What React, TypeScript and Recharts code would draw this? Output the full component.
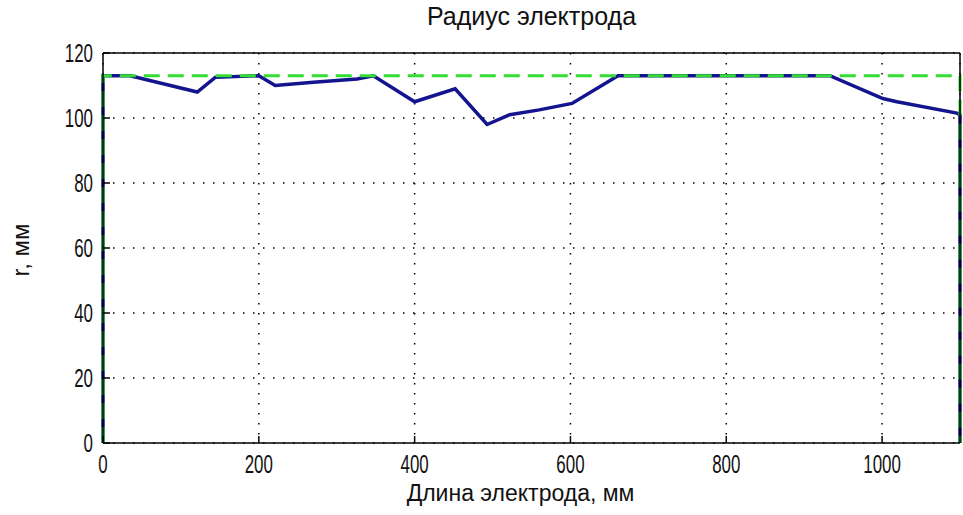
import React from 'react';
import { LineChart, Line, XAxis, YAxis, CartesianGrid } from 'recharts';

// electrode length, mm / radius, mm
const profileX = [0, 0, 35, 121, 144, 200, 221, 270, 326, 347, 400, 452, 493, 522, 560, 602, 661, 933, 1001, 1019, 1096, 1100, 1100];
const profileR = [0, 113, 113, 108, 112.5, 113, 110, 111, 112, 113, 105, 109, 98, 101, 102.5, 104.5, 113, 113, 106, 105, 101.5, 101, 0];

// nominal radius outline
const boxX = [0, 0, 1100, 1100];
const boxR = [0, 113, 113, 0];

const xTicks = [0, 200, 400, 600, 800, 1000];
const yTicks = [0, 20, 40, 60, 80, 100, 120];

const profileData = profileX.map((x, i) => ({ x, r: profileR[i] }));
const boxData = boxX.map((x, i) => ({ x, r: boxR[i] }));

const FONT = '"Liberation Sans", Arial, sans-serif';

const XTick = (props: any) => {
  const { x, y, payload } = props;
  return (
    <text
      transform={`translate(${x},${y}) scale(0.65,1)`}
      textAnchor="middle"
      dy={18}
      fontSize={26}
      fontFamily={FONT}
      fill="#111"
    >
      {payload.value}
    </text>
  );
};

const YTick = (props: any) => {
  const { x, y, payload } = props;
  return (
    <text
      transform={`translate(${x},${y}) scale(0.65,1)`}
      textAnchor="end"
      dy={9}
      fontSize={26}
      fontFamily={FONT}
      fill="#111"
    >
      {payload.value}
    </text>
  );
};

export default function App() {
  return (
    <div style={{ position: 'absolute', left: 0, top: 0, width: 963, height: 515, background: '#fff', fontFamily: FONT, color: '#111' }}>
      <div style={{ position: 'absolute', left: 0, width: 963, top: 2, textAlign: 'center', fontSize: 25, paddingLeft: 100, boxSizing: 'border-box' }}>
        Радиус электрода
      </div>
      <LineChart width={963} height={515} margin={{ top: 23, right: 0, bottom: 42, left: 55 }}>
        <CartesianGrid stroke="#000" strokeWidth={1.5} strokeDasharray="1.5 8.5" />
        <XAxis
          dataKey="x"
          type="number"
          domain={[0, 1100]}
          ticks={xTicks}
          height={30}
          stroke="#000"
          strokeWidth={1.5}
          tickSize={-7}
          tickMargin={19}
          tick={<XTick />}
        />
        <XAxis
          xAxisId="top"
          orientation="top"
          type="number"
          domain={[0, 1100]}
          ticks={xTicks}
          height={30}
          stroke="#000"
          strokeWidth={1.5}
          tickSize={-7}
          tick={false}
        />
        <YAxis
          type="number"
          domain={[0, 120]}
          ticks={yTicks}
          width={48}
          stroke="#000"
          strokeWidth={1.5}
          tickSize={-7}
          tickMargin={17}
          tick={<YTick />}
        />
        <YAxis
          yAxisId="right"
          orientation="right"
          type="number"
          domain={[0, 120]}
          ticks={yTicks}
          width={3}
          stroke="#000"
          strokeWidth={1.5}
          tickSize={-7}
          tick={false}
        />
        <Line
          data={profileData}
          dataKey="r"
          type="linear"
          stroke="#14148f"
          strokeWidth={3.5}
          dot={false}
          isAnimationActive={false}
        />
        <Line
          data={boxData}
          dataKey="r"
          type="linear"
          stroke="#33dd33"
          strokeWidth={3}
          strokeDasharray="16 8"
          dot={false}
          isAnimationActive={false}
        />
      </LineChart>
      <div style={{ position: 'absolute', left: 0, width: 963, top: 480, textAlign: 'center', fontSize: 23, paddingLeft: 78, boxSizing: 'border-box' }}>
        Длина электрода, мм
      </div>
      <div
        style={{
          position: 'absolute',
          left: 21,
          top: 250,
          transform: 'translate(-50%, -50%) rotate(-90deg)',
          fontSize: 24,
          whiteSpace: 'nowrap'
        }}
      >
        r, мм
      </div>
    </div>
  );
}
